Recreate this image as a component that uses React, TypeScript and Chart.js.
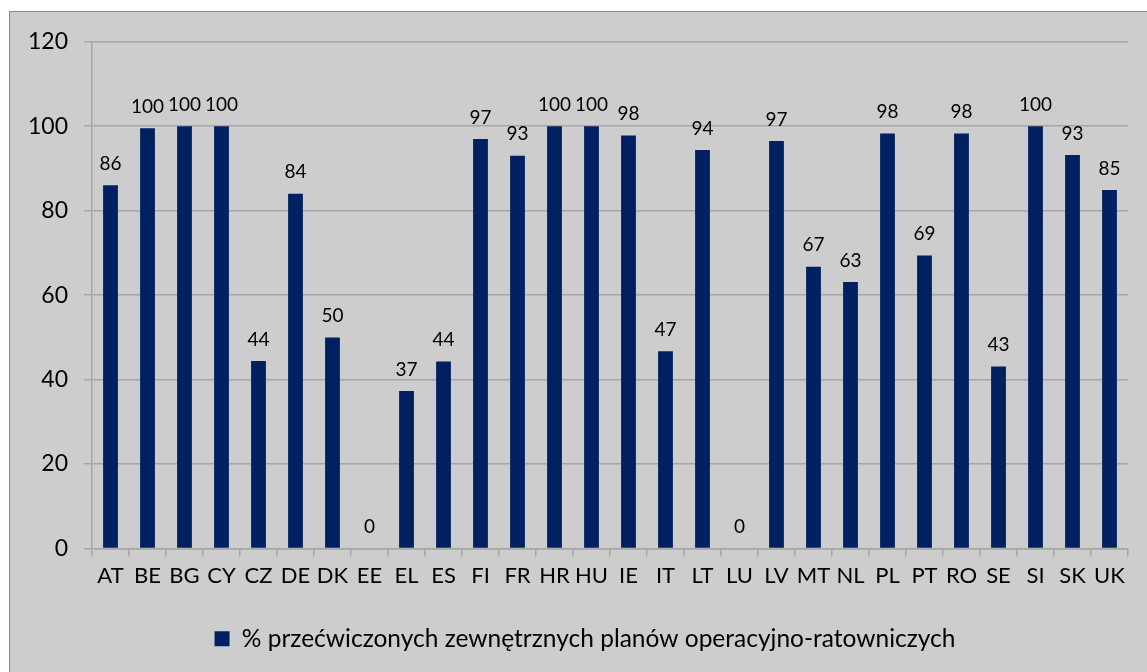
import React, { useEffect, useRef } from "react";
import { Chart, registerables } from "chart.js";

Chart.register(...registerables);

const categories = ["AT","BE","BG","CY","CZ","DE","DK","EE","EL","ES","FI","FR","HR","HU","IE","IT","LT","LU","LV","MT","NL","PL","PT","RO","SE","SI","SK","UK"];
const values = [86, 99.5, 100, 100, 44.4, 84, 50, 0, 37.3, 44.3, 97, 93, 100, 100, 97.8, 46.7, 94.4, 0, 96.5, 66.7, 63.1, 98.3, 69.4, 98.3, 43.1, 100, 93.2, 84.9];
const seriesLabel = "% przećwiczonych zewnętrznych planów operacyjno-ratowniczych";
const yTicks = [0, 20, 40, 60, 80, 100, 120];

const FONT = "Lato, 'Open Sans', sans-serif";

const dataLabelPlugin = {
  id: "dataLabels",
  afterLayout(chart: any) {
    if (chart.legend) {
      chart.legend.left += 16;
      chart.legend.right += 16;
    }
  },
  afterDatasetsDraw(chart: any) {
    const ctx = chart.ctx;
    const meta = chart.getDatasetMeta(0);
    ctx.save();
    ctx.font = `19px ${FONT}`;
    ctx.fillStyle = "#000000";
    ctx.textAlign = "center";
    ctx.textBaseline = "bottom";
    meta.data.forEach((bar: any, i: number) => {
      const v = chart.data.datasets[0].data[i];
      ctx.fillText(String(Math.round(v)), bar.x, bar.y - 12);
    });
    ctx.restore();
  },
};

export default function App() {
  const ref = useRef<HTMLCanvasElement>(null);
  useEffect(() => {
    document.documentElement.style.overflow = "hidden";
    document.body.style.overflow = "hidden";
    const chart = new Chart(ref.current!, {
      type: "bar",
      data: {
        labels: categories,
        datasets: [
          {
            label: seriesLabel,
            data: values,
            backgroundColor: "#002060",
            borderWidth: 0,
            barPercentage: 0.4,
            categoryPercentage: 1,
          },
        ],
      },
      options: {
        animation: false,
        responsive: false,
        devicePixelRatio: 1,
        layout: { padding: { top: 29, left: 0, right: 22, bottom: 10 } },
        plugins: {
          legend: {
            position: "bottom",
            labels: {
              font: { family: FONT, size: 24.5 },
              color: "#000000",
              boxWidth: 15,
              boxHeight: 15,
              padding: 8,
            },
          },
          tooltip: { enabled: false },
        },
        scales: {
          x: {
            offset: true,
            grid: {
              display: true,
              drawOnChartArea: false,
              offset: true,
              tickLength: 8,
              color: "#a6a6a6",
              lineWidth: 1.5,
            },
            border: { color: "#a6a6a6", width: 1.5 },
            ticks: { font: { family: FONT, size: 22 }, color: "#000000", padding: 6, maxRotation: 0, autoSkip: false },
            afterFit: (s: any) => { s.height = 70; },
          },
          y: {
            min: 0,
            max: 120,
            afterBuildTicks: (s: any) => { s.ticks = yTicks.map((v) => ({ value: v })); },
            grid: { color: "#a6a6a6", lineWidth: 1.5, tickLength: 8 },
            border: { color: "#a6a6a6", width: 1.5 },
            ticks: { font: { family: FONT, size: 23 }, color: "#000000", padding: 16 },
            afterFit: (s: any) => { s.width = 82; },
          },
        },
      },
      plugins: [dataLabelPlugin],
    });
    return () => chart.destroy();
  }, []);
  return (
    <div
      style={{
        position: "absolute",
        left: 9,
        top: 11,
        width: 1150,
        height: 670,
        border: "1px solid #8c8c8c",
        background: "#cdcdcd",
        overflow: "hidden",
      }}
    >
      <canvas ref={ref} width={1140} height={659} style={{ display: "block" }} />
    </div>
  );
}
